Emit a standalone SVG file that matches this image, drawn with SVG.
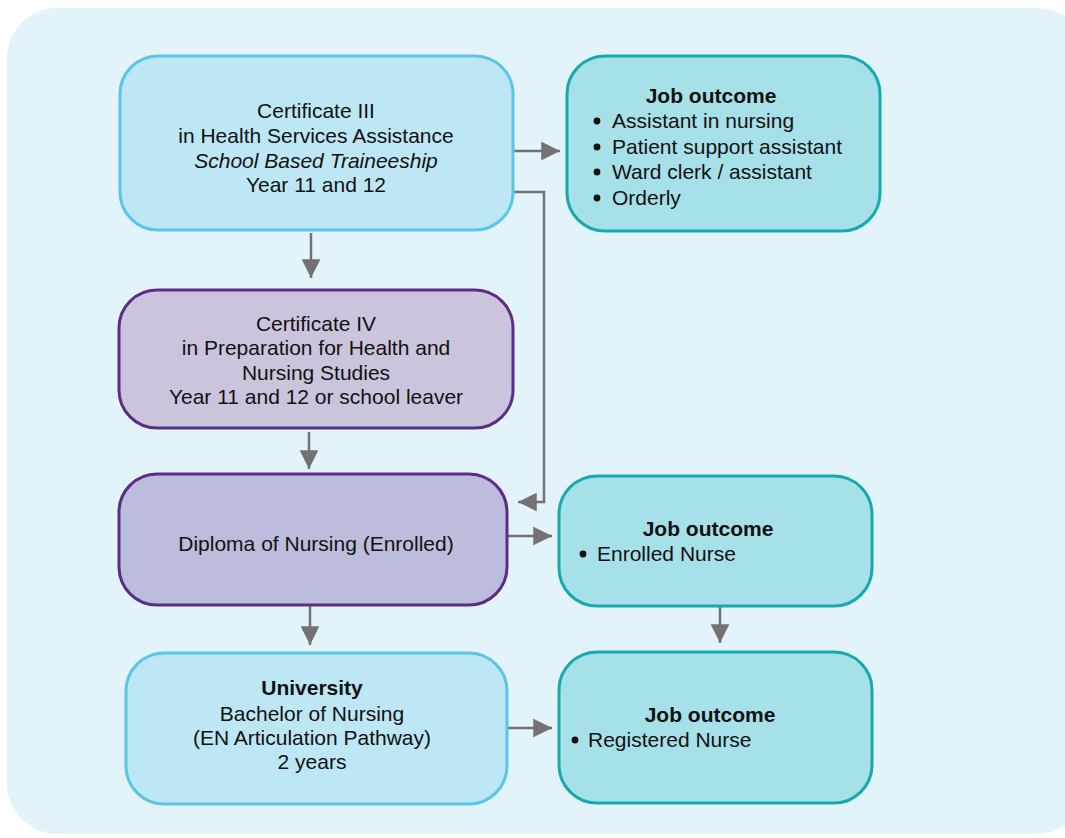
<svg xmlns="http://www.w3.org/2000/svg" width="1065" height="838" viewBox="0 0 1065 838">
<defs>
<style>
text{font-family:"Liberation Sans",Arial,sans-serif;font-size:21px;fill:#111}
.c{text-anchor:middle}
.b{font-weight:bold}
.i{font-style:italic}
.lb{fill:#bde7f5;stroke:#5bc5e8;stroke-width:3}
.pu1{fill:#cbc4dc;stroke:#5b2d86;stroke-width:3}
.pu2{fill:#bcbcdc;stroke:#5b2d86;stroke-width:3}
.tl{fill:#a6e0e8;stroke:#17a9ad;stroke-width:3}
.conn{fill:none;stroke:#767171;stroke-width:2.5}
</style>
<marker id="ah" viewBox="0 0 10 10" refX="10" refY="5" markerWidth="7.5" markerHeight="7.5" markerUnits="strokeWidth" orient="auto">
<path d="M0,0 L10,5 L0,10 z" fill="#767171"/>
</marker>
</defs>
<rect x="7" y="8" width="1080" height="826" rx="50" fill="#e2f3fa"/>
<g id="connectors">
<path class="conn" d="M513,151 H560" marker-end="url(#ah)"/>
<path class="conn" d="M513,192 H544 V502 H518" marker-end="url(#ah)"/>
<path class="conn" d="M311,233 V278" marker-end="url(#ah)"/>
<path class="conn" d="M309,432 V469" marker-end="url(#ah)"/>
<path class="conn" d="M507,536 H552" marker-end="url(#ah)"/>
<path class="conn" d="M310,605 V645" marker-end="url(#ah)"/>
<path class="conn" d="M720,606 V643" marker-end="url(#ah)"/>
<path class="conn" d="M507,728 H552" marker-end="url(#ah)"/>
</g>
<g id="cert3">
<rect class="lb" x="120" y="56" width="393" height="174" rx="38"/>
<text class="c" x="316" y="118">Certificate III</text>
<text class="c" x="316" y="143">in Health Services Assistance</text>
<text class="c i" x="316" y="168">School Based Traineeship</text>
<text class="c" x="316" y="192">Year 11 and 12</text>
</g>
<g id="job1">
<rect class="tl" x="567" y="56" width="313" height="175" rx="38"/>
<text class="c b" x="711" y="103">Job outcome</text>
<circle cx="597" cy="121" r="3.4" fill="#111"/>
<text x="612" y="128">Assistant in nursing</text>
<circle cx="597" cy="147" r="3.4" fill="#111"/>
<text x="612" y="154">Patient support assistant</text>
<circle cx="597" cy="172" r="3.4" fill="#111"/>
<text x="612" y="179">Ward clerk / assistant</text>
<circle cx="597" cy="198" r="3.4" fill="#111"/>
<text x="612" y="205">Orderly</text>
</g>
<g id="cert4">
<rect class="pu1" x="119" y="290" width="394" height="138" rx="38"/>
<text class="c" x="316" y="331">Certificate IV</text>
<text class="c" x="316" y="355">in Preparation for Health and</text>
<text class="c" x="316" y="380">Nursing Studies</text>
<text class="c" x="316" y="404">Year 11 and 12 or school leaver</text>
</g>
<g id="diploma">
<rect class="pu2" x="119" y="474" width="388" height="131" rx="38"/>
<text class="c" x="316" y="551">Diploma of Nursing (Enrolled)</text>
</g>
<g id="job2">
<rect class="tl" x="559" y="476" width="313" height="130" rx="38"/>
<text class="c b" x="708" y="536">Job outcome</text>
<circle cx="583" cy="554" r="3.4" fill="#111"/>
<text x="597" y="561">Enrolled Nurse</text>
</g>
<g id="university">
<rect class="lb" x="126" y="653" width="381" height="151" rx="38"/>
<text class="c b" x="312" y="695">University</text>
<text class="c" x="312" y="721">Bachelor of Nursing</text>
<text class="c" x="312" y="745">(EN Articulation Pathway)</text>
<text class="c" x="312" y="769">2 years</text>
</g>
<g id="job3">
<rect class="tl" x="559" y="652" width="313" height="151" rx="38"/>
<text class="c b" x="710" y="722">Job outcome</text>
<circle cx="575" cy="740" r="3.4" fill="#111"/>
<text x="588" y="747">Registered Nurse</text>
</g>
</svg>
